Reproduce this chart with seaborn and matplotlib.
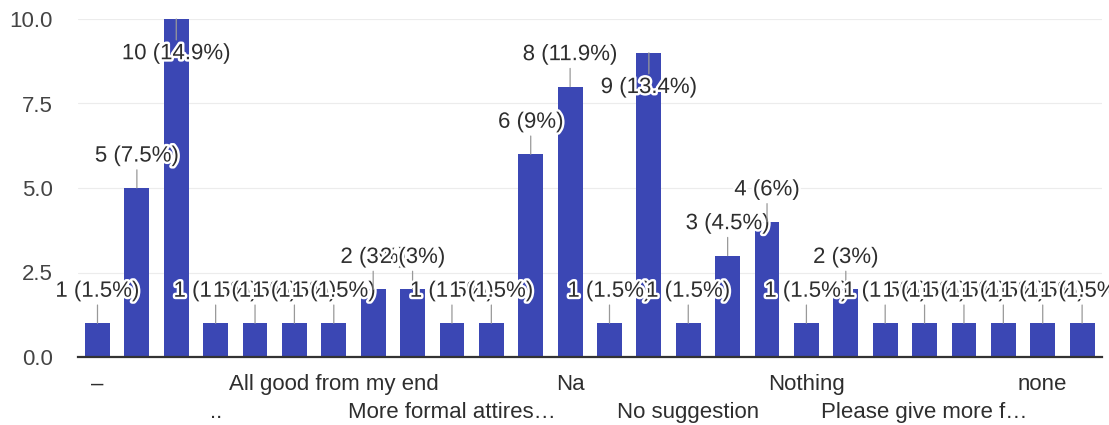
import matplotlib
matplotlib.use("Agg")
import matplotlib.pyplot as plt
import matplotlib.patheffects as pe
import seaborn as sns
import numpy as np

# survey answers: counts per response (26 responses, every third one is labelled)
counts = [1, 5, 10, 1, 1, 1, 1, 2, 2, 1, 1, 6, 8, 1, 9, 1, 3, 4, 1, 2, 1, 1, 1, 1, 1, 1]
tick_labels = ["–", "", "", "..", "", "", "All good from my end", "", "",
               "More formal attires…", "", "", "Na", "", "", "No suggestion", "", "",
               "Nothing", "", "", "Please give more f…", "", "", "none", ""]
y_ticks = [0, 2.5, 5, 7.5, 10]

BAR_COLOR = "#3b47b4"
TEXT_COLOR = "#2e2e2e"

sns.set_theme(style="white")
plt.rcParams["font.family"] = ["Liberation Sans", "DejaVu Sans"]

fig = plt.figure(figsize=(11.09, 4.25), dpi=100)
ax = fig.add_axes([77.8 / 1109, 68 / 425, 1024 / 1109, 338 / 425])

positions = np.arange(len(counts))
sns.barplot(x=positions, y=counts, color=BAR_COLOR, saturation=1, width=0.63,
            linewidth=0, ax=ax, zorder=2)

ax.set_xlim(-0.5, len(counts) - 0.5)
ax.set_ylim(0, 10)
ax.set_yticks(y_ticks)
ax.set_yticklabels([f"{t:.1f}" for t in y_ticks])
ax.yaxis.grid(True, color="#ececec", linewidth=0.8, zorder=0)
ax.set_axisbelow(True)

# alternate the category labels over two rows
ax.set_xticks(positions)
shown = []
k = 0
for lab in tick_labels:
    if lab:
        shown.append(lab if k % 2 == 0 else "\n" + lab)
        k += 1
    else:
        shown.append("")
ax.set_xticklabels(shown, linespacing=1.45)
ax.tick_params(axis="x", length=0, pad=12, labelsize=16, labelcolor=TEXT_COLOR)
ax.tick_params(axis="y", length=0, pad=18, labelsize=16, labelcolor="#444444")
ax.set_xlabel("")
ax.set_ylabel("")

for side in ["top", "right", "left"]:
    ax.spines[side].set_visible(False)
ax.spines["bottom"].set_color("#333333")
ax.spines["bottom"].set_linewidth(1.6)
ax.spines["bottom"].set_zorder(5)

total = sum(counts)
halo = [pe.withStroke(linewidth=3.5, foreground="white")]
for x, v in zip(positions, counts):
    pct = f"{100 * v / total:.1f}".rstrip("0").rstrip(".")
    above = v + 1.3 <= ax.get_ylim()[1]
    dy = 23 if above else -25
    ann = ax.annotate(f"{v} ({pct}%)", xy=(x, v), xytext=(0, dy),
                      textcoords="offset points", ha="center", va="center",
                      fontsize=16, color=TEXT_COLOR, zorder=6,
                      arrowprops=dict(arrowstyle="-", color="#999999", lw=0.9,
                                      shrinkA=0, shrinkB=0))
    ann.set_path_effects(halo)
    ann.arrow_patch.set_path_effects([])

fig.savefig("out.png", dpi=100)
